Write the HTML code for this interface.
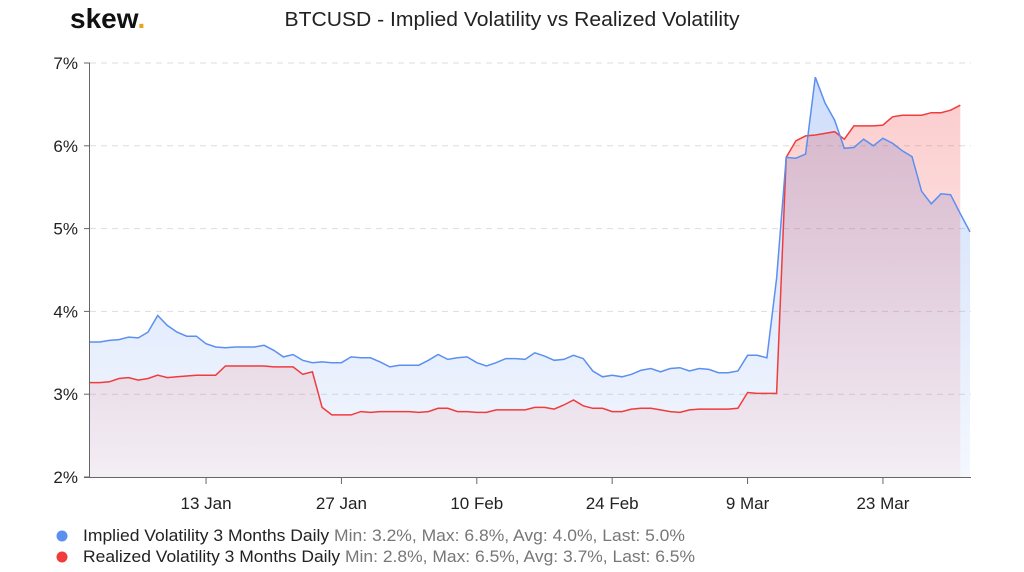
<!DOCTYPE html>
<html><head><meta charset="utf-8"><style>
body{margin:0;background:#fff;width:1024px;height:572px;overflow:hidden;font-family:"Liberation Sans",sans-serif}
svg{display:block}
</style></head><body>
<svg id="chart" width="1024" height="572" xmlns="http://www.w3.org/2000/svg">
<defs>
<linearGradient id="gb" x1="0" y1="0" x2="0" y2="1"><stop offset="0" stop-color="#5b8ff0" stop-opacity="0.3"/><stop offset="1" stop-color="#5b8ff0" stop-opacity="0.07"/></linearGradient>
<linearGradient id="gr" x1="0" y1="0" x2="0" y2="1"><stop offset="0" stop-color="#f03c3c" stop-opacity="0.25"/><stop offset="1" stop-color="#f03c3c" stop-opacity="0.05"/></linearGradient>
</defs>
<text x="70" y="28" font-size="28" font-weight="bold" fill="#111">skew<tspan fill="#e8a317">.</tspan></text>
<text x="512" y="26" text-anchor="middle" font-size="20" fill="#222" textLength="455" lengthAdjust="spacingAndGlyphs">BTCUSD - Implied Volatility vs Realized Volatility</text>
<g id="grid"></g><g id="series"></g><g id="axes"></g>
<g font-size="17">
<circle cx="62" cy="536" r="5.5" fill="#5b8ff0"/>
<text x="83" y="541" fill="#222" textLength="602" lengthAdjust="spacingAndGlyphs">Implied Volatility 3 Months Daily <tspan fill="#777">Min: 3.2%, Max: 6.8%, Avg: 4.0%, Last: 5.0%</tspan></text>
<circle cx="62" cy="557" r="5.5" fill="#f03c3c"/>
<text x="83" y="562" fill="#222" textLength="612" lengthAdjust="spacingAndGlyphs">Realized Volatility 3 Months Daily <tspan fill="#777">Min: 2.8%, Max: 6.5%, Avg: 3.7%, Last: 6.5%</tspan></text>
</g>
</svg>
<script>
const yTicks=[2,3,4,5,6,7];
const xTickLabels=["13 Jan","27 Jan","10 Feb","24 Feb","9 Mar","23 Mar"];
const xTickDays=[12,26,40,54,68,82];
const implied=[3.63,3.63,3.65,3.66,3.69,3.68,3.75,3.95,3.83,3.75,3.70,3.70,3.61,3.57,3.56,3.57,3.57,3.57,3.59,3.53,3.45,3.48,3.41,3.38,3.39,3.38,3.38,3.45,3.44,3.44,3.39,3.33,3.35,3.35,3.35,3.41,3.48,3.42,3.44,3.45,3.38,3.34,3.38,3.43,3.43,3.42,3.50,3.46,3.41,3.42,3.47,3.43,3.28,3.21,3.23,3.21,3.24,3.29,3.31,3.27,3.31,3.32,3.28,3.31,3.30,3.26,3.26,3.28,3.47,3.47,3.44,4.40,5.86,5.85,5.90,6.83,6.52,6.31,5.97,5.98,6.08,6.00,6.09,6.03,5.94,5.87,5.45,5.30,5.42,5.41,5.18,4.96];
const realized=[3.14,3.14,3.15,3.19,3.20,3.17,3.19,3.23,3.20,3.21,3.22,3.23,3.23,3.23,3.34,3.34,3.34,3.34,3.34,3.33,3.33,3.33,3.24,3.27,2.84,2.75,2.75,2.75,2.79,2.78,2.79,2.79,2.79,2.79,2.78,2.79,2.83,2.83,2.79,2.79,2.78,2.78,2.81,2.81,2.81,2.81,2.84,2.84,2.82,2.87,2.93,2.86,2.83,2.83,2.79,2.79,2.82,2.83,2.83,2.81,2.79,2.78,2.81,2.82,2.82,2.82,2.82,2.83,3.02,3.01,3.01,3.01,5.86,6.06,6.12,6.13,6.15,6.17,6.08,6.24,6.24,6.24,6.25,6.35,6.37,6.37,6.37,6.40,6.40,6.43,6.49];
const NS='http://www.w3.org/2000/svg';
const X=i=>90+i*9.67;
const Y=v=>477-(v-2)*82.8;
function mk(tag,attrs,parent){const e=document.createElementNS(NS,tag);for(const k in attrs)e.setAttribute(k,attrs[k]);parent.appendChild(e);return e;}
const grid=document.getElementById('grid'),ser=document.getElementById('series'),ax=document.getElementById('axes');
yTicks.forEach(t=>{
 if(t>2){const l=mk('line',{x1:90,x2:971,y1:Y(t),y2:Y(t),stroke:'#ddd','stroke-dasharray':'6,5'},grid);
 
 }
 const tk=mk('line',{x1:84,x2:90,y1:Y(t),y2:Y(t),stroke:'#666'},ax);
 
 
 const tx=mk('text',{x:78,y:Y(t)+6,'text-anchor':'end','font-size':'17',fill:'#222'},ax);
 tx.textContent=t+'%';
 
 
});
function series(vals,color,fill,name){
 const pts=vals.map((v,i)=>X(i).toFixed(1)+','+Y(v).toFixed(1));
 const area=mk('path',{d:'M'+X(0)+','+Y(2)+'L'+pts.join('L')+'L'+X(vals.length-1)+','+Y(2)+'Z',fill:fill},ser);
 
 
 return pts;
}
const pi=series(implied,'#5b8ff0','url(#gb)','implied');
const pr=series(realized,'#f03c3c','url(#gr)','realized');
const lr=mk('polyline',{points:pr.join(' '),fill:'none',stroke:'#f03c3c','stroke-width':1.5},ser);


const li=mk('polyline',{points:pi.join(' '),fill:'none',stroke:'#5b8ff0','stroke-width':1.5},ser);


const va=mk('line',{x1:89.5,x2:89.5,y1:63,y2:478,stroke:'#666'},ax);


const ha=mk('line',{x1:84,x2:971,y1:477.5,y2:477.5,stroke:'#666'},ax);


xTickLabels.forEach((lab,k)=>{
 const x=X(xTickDays[k]);
 const tk=mk('line',{x1:x,x2:x,y1:478,y2:484,stroke:'#666'},ax);
 
 
 const tx=mk('text',{x:x,y:509,'text-anchor':'middle','font-size':'17',fill:'#222'},ax);
 tx.textContent=lab;
 
 
});
</script>
</body></html>
